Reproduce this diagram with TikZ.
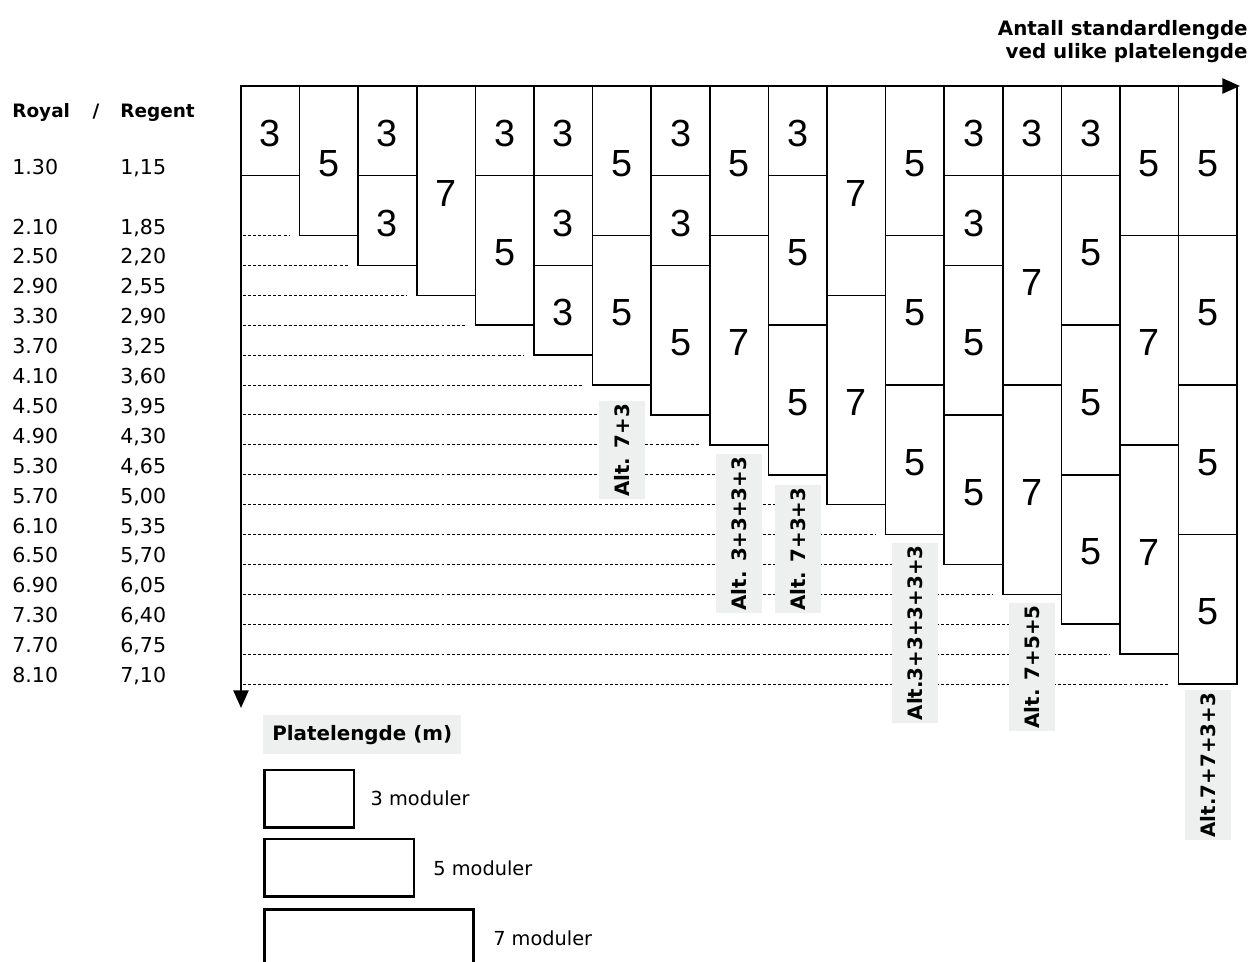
\documentclass[tikz,border=0pt]{standalone}
\usepackage{fontspec}
\setmainfont{DejaVu Sans}
\newfontfamily\platefont{Liberation Sans}
\usetikzlibrary{arrows.meta,positioning}
\definecolor{labelgray}{RGB}{238,239,239}
\newcommand{\colw}{1.172}
\newcommand{\modh}{0.598}

\begin{document}
\begin{tikzpicture}[
  plate/.style={draw,line width=.9pt},
  platenum/.style={inner sep=0pt,yshift=-1.5pt,font=\platefont\fontsize{21.5}{24}\selectfont},
  guide/.style={line width=.55pt,dash pattern=on 1.7pt off 1.2pt},
  axis/.style={line width=1.4pt,{Triangle[length=10pt,width=8.5pt]}-{Triangle[length=10pt,width=8.5pt]}},
  altlabel/.style={rotate=90,fill=labelgray,inner xsep=1.5pt,inner ysep=0pt,minimum height=.92cm,font=\bfseries\fontsize{11.3}{13}\selectfont},
  rowlabel/.style={anchor=base west,inner sep=0pt,font=\fontsize{11.7}{14}\selectfont},
  headlabel/.style={inner sep=0pt,font=\bfseries\fontsize{10.5}{13}\selectfont},
  legbox/.style={draw,line width=1.5pt,minimum height=1.15cm,inner sep=0pt},
  legtext/.style={inner sep=0pt,font=\fontsize{11}{13}\selectfont}]
\useasboundingbox (-4.82,1.72) rectangle (20.18,-17.5);

% stacks of plates, one column per length
\begin{scope}[x=\colw cm,y=-\modh cm]
  \foreach \stack [count=\k] in {{3},{5},{3,3},{7},{3,5},{3,3,3},{5,5},{3,3,5},{5,7},{3,5,5},{7,7},{5,5,5},{3,3,5,5},{3,7,7},{3,5,5,5},{5,7,7},{5,5,5,5}}{
    \xdef\ytop{0}
    \foreach \m [count=\i] in \stack {
      \pgfmathtruncatemacro\ybot{\ytop+\m}
      \draw[plate] (\k-1,\ytop) rectangle (\k,\ybot);
      \node[platenum] (p\k-\i) at (\k-.5,{(\ytop+\ybot)/2}) {\m};
      \xdef\ytop{\ybot}
    }
    \coordinate (b\k) at (\k-.5,\ytop);
  }
  \foreach \n in {5,...,20}
    \draw[guide] (.03,\n) -- (\n-4.17,\n);
\end{scope}

\foreach \k/\gap/\txt in {7/.32/Alt. 7+3, 9/.18/Alt. 3+3+3+3, 10/.2/Alt. 7+3+3,
    12/.16/Alt.3+3+3+3+3, 14/.16/Alt. 7+5+5, 17/.12/Alt.7+7+3+3}
  \node[altlabel,anchor=east] (alt\k) at ([yshift=-\gap cm]b\k) {\txt};

% axes
\coordinate (o) at (0,0);
\coordinate (xend) at (19.98,0);
\coordinate (yend) at (0,-12.44);
\draw[axis] (yend) |- (xend);

\node[inner sep=0pt,anchor=base east,font=\bfseries\fontsize{11.3}{13}\selectfont] (title1) at (20.14,1.02) {Antall standardlengde};
\node[inner sep=0pt,anchor=base east,font=\bfseries\fontsize{11.3}{13}\selectfont] (title2) at (20.14,.56) {ved ulike platelengde};

% lengths, Royal and Regent
\node[headlabel,anchor=base west] (royal) at (-4.58,-.62) {Royal};
\node[headlabel,anchor=base] (slash) at (-2.9,-.62) {/};
\node[headlabel,anchor=base west] (regent) at (-2.42,-.62) {Regent};
\foreach \n/\ro/\re in {3/1.30/1{,}15, 5/2.10/1{,}85, 6/2.50/2{,}20, 7/2.90/2{,}55,
    8/3.30/2{,}90, 9/3.70/3{,}25, 10/4.10/3{,}60, 11/4.50/3{,}95, 12/4.90/4{,}30,
    13/5.30/4{,}65, 14/5.70/5{,}00, 15/6.10/5{,}35, 16/6.50/5{,}70, 17/6.90/6{,}05,
    18/7.30/6{,}40, 19/7.70/6{,}75, 20/8.10/7{,}10}{
  \node[rowlabel] (ro\n) at (-4.58,{-\modh*\n+.03}) {\ro};
  \node[rowlabel] (re\n) at (-2.42,{-\modh*\n+.03}) {\re};
}

% legend
\node[fill=labelgray,anchor=north west,minimum height=.78cm,inner xsep=.18cm,inner ysep=0pt,font=\bfseries\fontsize{11.3}{13}\selectfont] (plate) at (.44,-12.58) {Platelengde (m)};
\node[legbox,minimum width=3*\modh cm,below=.28cm of plate.south west,anchor=north west] (leg3) {};
\node[legbox,minimum width=5*\modh cm,below=.18cm of leg3.south west,anchor=north west] (leg5) {};
\node[legbox,minimum width=7*\modh cm,below=.2cm of leg5.south west,anchor=north west] (leg7) {};
\node[legtext,right=.3cm of leg3] (leg3t) {3 moduler};
\node[legtext,right=.36cm of leg5] (leg5t) {5 moduler};
\node[legtext,right=.36cm of leg7] (leg7t) {7 moduler};
\end{tikzpicture}
\end{document}
